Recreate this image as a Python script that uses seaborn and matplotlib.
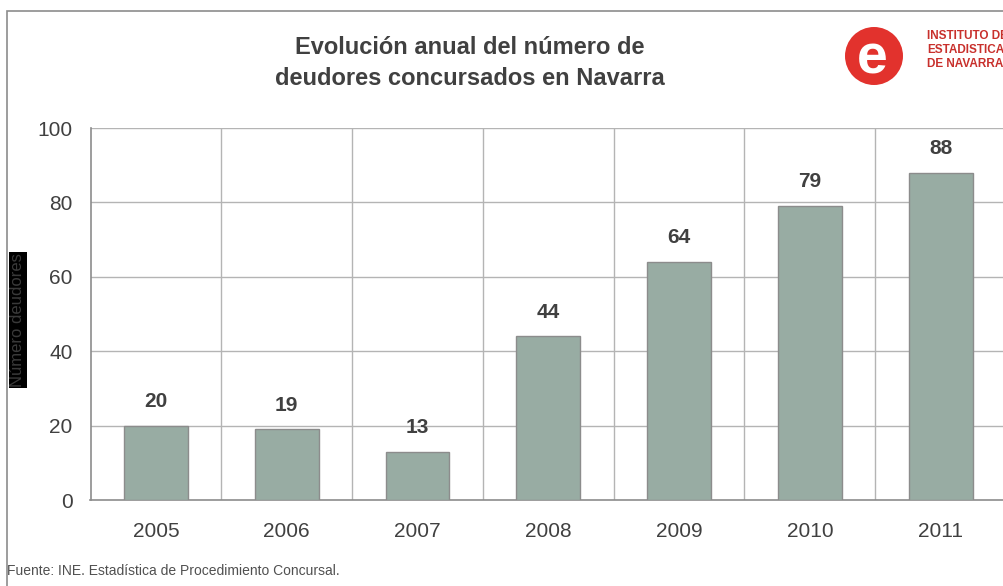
import matplotlib.pyplot as plt
import seaborn as sns
import pandas as pd
from matplotlib.patches import Rectangle, Ellipse

# data
years = ["2005", "2006", "2007", "2008", "2009", "2010", "2011"]
deudores = [20, 19, 13, 44, 64, 79, 88]
y_ticks = [0, 20, 40, 60, 80, 100]

BAR_COLOR = "#98aca3"
BAR_EDGE = "#8c8c8c"
GRID_COLOR = "#b4b4b4"
TEXT_DARK = "#404040"
LOGO_RED = "#e2322d"

sns.set_theme(style="white")
plt.rcParams["font.family"] = ["Liberation Sans", "DejaVu Sans"]

df = pd.DataFrame({"year": years, "n": deudores})

W, H = 1004, 586
fig = plt.figure(figsize=(W / 100, H / 100), dpi=100)
fig.patch.set_facecolor("white")

# outer frame (runs off the right and bottom edges like the original)
fig.patches.append(Rectangle((7 / W, -0.05), 1.2, 1 - 11 / H + 0.05,
                             transform=fig.transFigure, fill=False,
                             edgecolor="#8c8c8c", linewidth=1.2))

# plot area: left 90.5px, bottom 500px, top 128px, category width ~130.8px
ax = fig.add_axes([90.5 / W, 1 - 500 / H, 7 * 130.8 / W, 372 / H])
sns.barplot(data=df, x="year", y="n", color=BAR_COLOR, width=0.487,
            edgecolor=BAR_EDGE, linewidth=1.0, saturation=1, ax=ax, zorder=3)

ax.set_xlim(-0.5, len(years) - 0.5)
ax.set_ylim(0, 100)
ax.set_yticks(y_ticks)
ax.set_xticks(range(len(years)))
ax.set_xticklabels(years)
ax.tick_params(axis="both", which="major", length=0, labelsize=15,
               colors=TEXT_DARK)
ax.tick_params(axis="y", pad=13)
ax.tick_params(axis="x", pad=16)
# small outward marks at the category boundaries
ax.set_xticks([b + 0.5 for b in range(len(years) - 1)], minor=True)
ax.tick_params(axis="x", which="minor", length=4, width=1.0,
               color=GRID_COLOR, direction="out")

# horizontal grid + category separators
for t in y_ticks[1:]:
    ax.axhline(t, color=GRID_COLOR, linewidth=1.0, zorder=1)
for b in range(len(years)):
    ax.axvline(b + 0.5, color=GRID_COLOR, linewidth=1.0, zorder=1)

for side in ["top", "right"]:
    ax.spines[side].set_visible(False)
for side in ["left", "bottom"]:
    ax.spines[side].set_color("#8c8c8c")
    ax.spines[side].set_linewidth(1.2)
ax.set_xlabel("")
ax.set_ylabel("")

for i, v in enumerate(deudores):
    ax.text(i, v + 6.5, str(v), ha="center", va="center", fontsize=15,
            fontweight="bold", color=TEXT_DARK)

# y label with black box
fig.text(18 / W, 1 - 320 / H, "Número deudores", rotation=90,
         ha="center", va="center", fontsize=12, color="#3a3a3a",
         bbox=dict(facecolor="black", edgecolor="none", pad=1.0))

# title
fig.text(470 / W, 1 - 63 / H,
         "Evolución anual del número de\ndeudores concursados en Navarra",
         ha="center", va="center", fontsize=17, fontweight="bold",
         color=TEXT_DARK, linespacing=1.42)

# logo (IEN), cut off at the right edge like the original
fig.patches.append(Ellipse((874 / W, 1 - 56 / H), 58 / W, 58 / H,
                           transform=fig.transFigure, facecolor=LOGO_RED,
                           edgecolor="none"))
fig.text(872 / W, 1 - 60 / H, "e", ha="center", va="center",
         fontsize=40, fontweight="bold", color="white")
fig.text(927 / W, 1 - 50 / H, "INSTITUTO DE\nESTADISTICA\nDE NAVARRA",
         ha="left", va="center", fontsize=8.5, fontweight="bold",
         color="#c8302c", linespacing=1.25)

# source note
fig.text(7 / W, 1 - 571 / H,
         "Fuente: INE. Estadística de Procedimiento Concursal.",
         ha="left", va="center", fontsize=10, color="#505050")

fig.savefig("out.png", dpi=100, facecolor="white")
